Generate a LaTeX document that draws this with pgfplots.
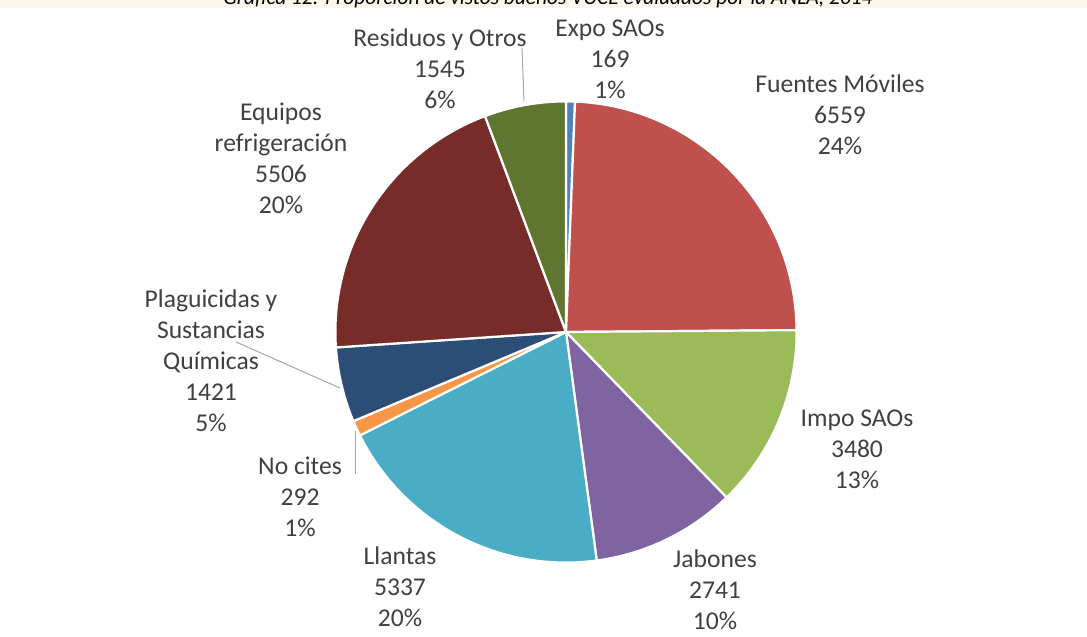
\documentclass[border=0pt]{standalone}
\usepackage{pgfplots}
\pgfplotsset{compat=1.18}
\usepackage{pgfplotstable}
\usepackage{fontspec}
\setmainfont{Carlito}

\definecolor{cExpo}{HTML}{4F81BD}
\definecolor{cFuentes}{HTML}{C0504D}
\definecolor{cImpo}{HTML}{9BBB59}
\definecolor{cJabones}{HTML}{8064A2}
\definecolor{cLlantas}{HTML}{4BACC6}
\definecolor{cNocites}{HTML}{F79646}
\definecolor{cPlag}{HTML}{2C4D75}
\definecolor{cEquipos}{HTML}{772C2A}
\definecolor{cResiduos}{HTML}{5F7530}
\definecolor{txt}{HTML}{404040}
\definecolor{cream}{HTML}{FBF8EB}

% slices clockwise from the top
\pgfplotstableread[col sep=comma]{
name,value,color
Expo SAOs,169,cExpo
Fuentes Moviles,6559,cFuentes
Impo SAOs,3480,cImpo
Jabones,2741,cJabones
Llantas,5337,cLlantas
No cites,292,cNocites
Plaguicidas,1421,cPlag
Equipos,5506,cEquipos
Residuos,1545,cResiduos
}\piedata

\begin{document}
\begin{tikzpicture}[
    lbl/.style={font=\fontsize{12.8}{15.5}\selectfont, text=txt, align=center},
]
\begin{axis}[
    x=0.5pt, y=0.5pt,
    xmin=0, xmax=1087, ymin=0, ymax=637,
    scale only axis,
    hide axis,
    clip=false,
]
\addplot[draw=none] coordinates {(0,0) (1087,637)};

% title strip, cut at the top edge
\fill[cream, overlay] (axis cs:0,629) rectangle (axis cs:1087,660);
\node[overlay, anchor=base, font=\fontsize{10.7}{12}\selectfont\itshape, text=black]
  at (axis cs:548,632) {Gráfica 12: Proporción de vistos buenos VUCE evaluados por la ANLA, 2014};

\pgfplotsextra{
  % sums in thousands, to stay inside TeX's range
  \def\total{0}
  \pgfplotsforeachungrouped \i in {0,...,8}{%
    \pgfplotstablegetelem{\i}{value}\of\piedata
    \pgfmathsetmacro{\total}{\total+\pgfplotsretval/1000}%
  }
  \def\curang{90}
  \pgfplotsforeachungrouped \i in {0,...,8}{%
    \pgfplotstablegetelem{\i}{value}\of\piedata
    \let\sval=\pgfplotsretval
    \pgfplotstablegetelem{\i}{color}\of\piedata
    \let\scol=\pgfplotsretval
    \pgfmathsetmacro{\endang}{\curang-360*(\sval/1000)/\total}%
    \fill[\scol, draw=white, line width=1.1pt, line join=round]
      (axis cs:566,305) -- ++(\curang:115.3pt)
      arc[start angle=\curang, end angle=\endang, radius=115.3pt] -- cycle;
    \let\curang=\endang
  }
}

% leader lines
\draw[gray!70, line width=0.5pt] (axis cs:522,589) -- (axis cs:524,536);
\draw[gray!70, line width=0.5pt] (axis cs:236,295) -- (axis cs:340,249);
\draw[gray!70, line width=0.5pt] (axis cs:355,206) -- (axis cs:355,163);

% labels
\node[lbl] at (axis cs:610,578) {Expo SAOs\\169\\1\%};
\node[lbl] at (axis cs:440,568) {Residuos y Otros\\1545\\6\%};
\node[lbl] at (axis cs:840,522) {Fuentes Móviles\\6559\\24\%};
\node[lbl] at (axis cs:281,479) {Equipos\\refrigeración\\5506\\20\%};
\node[lbl] at (axis cs:211,276) {Plaguicidas y\\Sustancias\\Químicas\\1421\\5\%};
\node[lbl] at (axis cs:300,140) {No cites\\292\\1\%};
\node[lbl] at (axis cs:857,188) {Impo SAOs\\3480\\13\%};
\node[lbl] at (axis cs:715,47) {Jabones\\2741\\10\%};
\node[lbl] at (axis cs:400,50) {Llantas\\5337\\20\%};
\end{axis}
\end{tikzpicture}
\end{document}
